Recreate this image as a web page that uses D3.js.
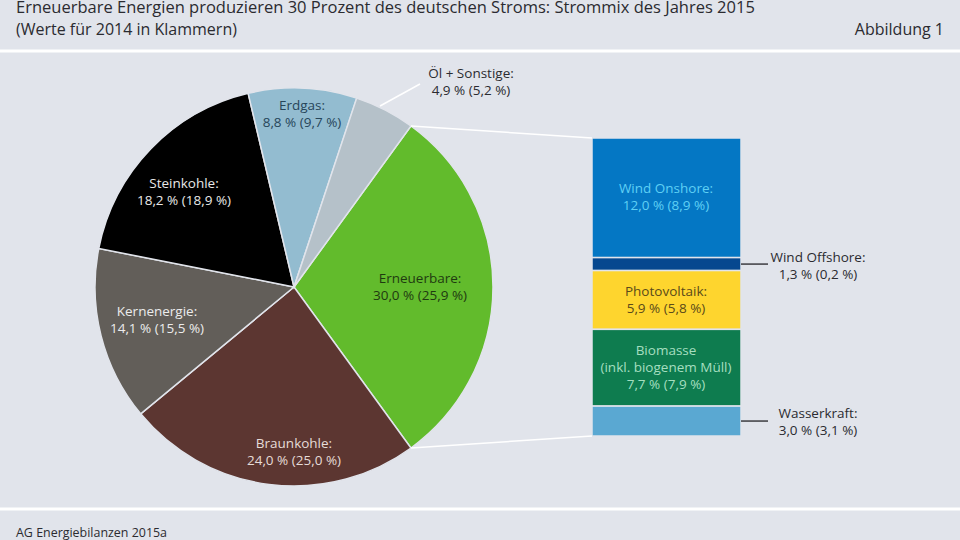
<!DOCTYPE html>
<html lang="de">
<head>
<meta charset="utf-8">
<title>Strommix 2015</title>
<script src="https://cdn.jsdelivr.net/npm/d3@7"></script>
<style>
  html, body { margin: 0; padding: 0; background: #e1e4eb; overflow: hidden; }
  text { font-family: "Open Sans", sans-serif; font-size: 13.5px; fill: #2b2b30; }
</style>
</head>
<body>
<svg id="chart" width="960" height="540"></svg>
<script>
// pie: share of electricity 2015, value for 2014 in brackets
var energySources = ["Erneuerbare", "Braunkohle", "Kernenergie", "Steinkohle", "Erdgas", "Öl + Sonstige"];
var share2015 = [30.0, 24.0, 14.1, 18.2, 8.8, 4.9];
var share2014 = [25.9, 25.0, 15.5, 18.9, 9.7, 5.2];
var pieColors = ["#62bb2c", "#5c3631", "#625e59", "#000000", "#93bcd0", "#b5c1c9"];
var pieTextColors = ["#1f3a10", "#e6dcd8", "#ececec", "#e8e8e8", "#27465a", "#2b2b30"];

// stacked bar: what the renewables are made of
var renewables = ["Wind Onshore", "Wind Offshore", "Photovoltaik", "Biomasse", "Wasserkraft"];
var renew2015 = [12.0, 1.3, 5.9, 7.7, 3.0];
var renew2014 = [8.9, 0.2, 5.8, 7.9, 3.1];
var barColors = ["#0477c4", "#06488f", "#fed52e", "#0e7c4f", "#5aa8d2"];

var fmt = function(v) { return v.toFixed(1).replace(".", ","); };
var valueLabel = function(a, b) { return fmt(a) + " % (" + fmt(b) + " %)"; };

var svg = d3.select("#chart");

// header / footer
svg.append("text").attr("x", 16).attr("y", 13).style("font-size", "16.5px").text("Erneuerbare Energien produzieren 30 Prozent des deutschen Stroms: Strommix des Jahres 2015");
svg.append("text").attr("x", 16).attr("y", 35).style("font-size", "16px").text("(Werte für 2014 in Klammern)");
svg.append("text").attr("x", 944).attr("y", 35).attr("text-anchor", "end").style("font-size", "16px").text("Abbildung 1");
svg.append("text").attr("x", 16).attr("y", 536.5).style("font-size", "13.5px")
    .attr("textLength", 151).attr("lengthAdjust", "spacingAndGlyphs").text("AG Energiebilanzen 2015a");
svg.selectAll("line.rule").data([51, 509]).enter().append("line").attr("class", "rule")
    .attr("x1", 0).attr("x2", 960).attr("y1", function(d) { return d; }).attr("y2", function(d) { return d; })
    .attr("stroke", "#ffffff").attr("stroke-width", 3);

// pie
var cx = 294, cy = 287, radius = 199;
var startAngle = 36 * Math.PI / 180;
var pie = d3.pie().sort(null).startAngle(startAngle).endAngle(startAngle + 2 * Math.PI);
var arc = d3.arc().innerRadius(0).outerRadius(radius);
var arcs = pie(share2015);
var pieG = svg.append("g").attr("transform", "translate(" + cx + "," + cy + ")");
pieG.selectAll("path").data(arcs).enter().append("path")
    .attr("d", arc)
    .attr("fill", function(d, i) { return pieColors[i]; })
    .attr("stroke", "#e1e4eb").attr("stroke-width", 1.5);

// bar
var barX = 592, barW = 149, barTop = 138, barBottom = 436;
var y = d3.scaleLinear().domain([0, d3.sum(renew2015)]).range([barTop, barBottom]);
var stack = [], running = 0;
renew2015.forEach(function(v, i) { stack.push({ from: running, to: running + v, i: i }); running += v; });
svg.selectAll("rect.seg").data(stack).enter().append("rect").attr("class", "seg")
    .attr("x", barX).attr("width", barW)
    .attr("y", function(d) { return y(d.from); })
    .attr("height", function(d) { return y(d.to) - y(d.from); })
    .attr("fill", function(d) { return barColors[d.i]; })
    .attr("stroke", "#e1e4eb").attr("stroke-width", 1.5);

// connectors from the green slice to the bar
var sliceTop = d3.pointRadial(arcs[0].startAngle, radius), sliceBot = d3.pointRadial(arcs[0].endAngle, radius);
var lines = [
    [cx + sliceTop[0], cy + sliceTop[1], barX, barTop],
    [cx + sliceBot[0], cy + sliceBot[1], barX, barBottom],
    [380, 106, 420, 84]
];
svg.selectAll("line.conn").data(lines).enter().append("line").attr("class", "conn")
    .attr("x1", function(d) { return d[0]; }).attr("y1", function(d) { return d[1]; })
    .attr("x2", function(d) { return d[2]; }).attr("y2", function(d) { return d[3]; })
    .attr("stroke", "#ffffff").attr("stroke-width", 1.5);

// leaders for the labels right of the bar, at the middle of their segment
var leaders = [1, 4].map(function(i) { return (y(stack[i].from) + y(stack[i].to)) / 2; });
svg.selectAll("line.lead").data(leaders).enter().append("line").attr("class", "lead")
    .attr("x1", barX + barW).attr("x2", 768)
    .attr("y1", function(d) { return d; }).attr("y2", function(d) { return d; })
    .attr("stroke", "#3c3c40").attr("stroke-width", 1.5);

function label(x, y0, lines, color) {
    var t = svg.append("text").attr("text-anchor", "middle").style("fill", color);
    lines.forEach(function(s, i) {
        t.append("tspan").attr("x", x).attr("y", y0 + i * 17).text(s);
    });
}

// label anchors for the pie, same order as energySources
var pieLabelAt = [[420, 283], [294, 448], [157, 316], [184, 188], [302, 110], [471, 78]];
energySources.forEach(function(name, i) {
    label(pieLabelAt[i][0], pieLabelAt[i][1], [name + ":", valueLabel(share2015[i], share2014[i])], pieTextColors[i]);
});

label(666, 193, [renewables[0] + ":", valueLabel(renew2015[0], renew2014[0])], "#5fd0f5");
label(818, 262, [renewables[1] + ":", valueLabel(renew2015[1], renew2014[1])], "#2b2b30");
label(666, 296, [renewables[2] + ":", valueLabel(renew2015[2], renew2014[2])], "#5a4a1a");
label(666, 355, [renewables[3], "(inkl. biogenem Müll)", valueLabel(renew2015[3], renew2014[3])], "#a5dfc0");
label(818, 418, [renewables[4] + ":", valueLabel(renew2015[4], renew2014[4])], "#2b2b30");
</script>
</body>
</html>
